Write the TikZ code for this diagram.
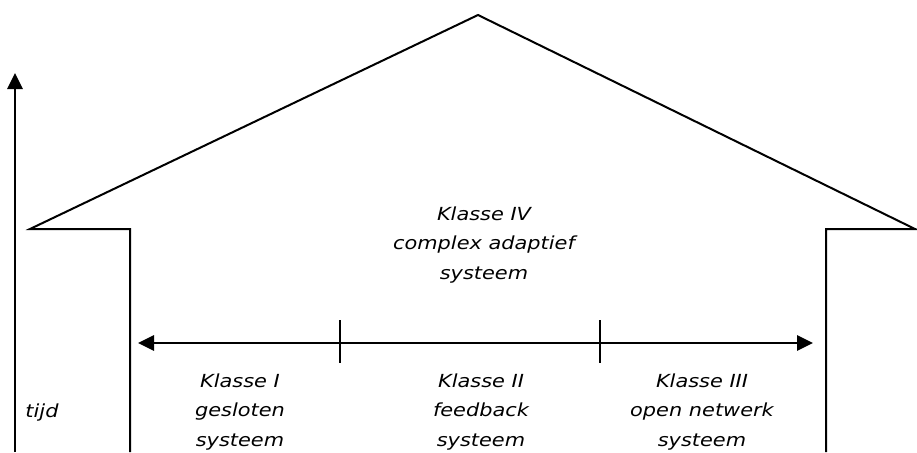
\documentclass[tikz,border=0pt]{standalone}
\usepackage{fontspec}
\setmainfont{DejaVu Sans}
\newfontfamily\lblfont[FakeStretch=1.16]{DejaVu Sans Oblique}
\usetikzlibrary{arrows.meta}
\tikzset{
  lbl/.style={font=\lblfont\fontsize{18}{29.5}\selectfont, align=center, anchor=base, inner sep=0pt},
  wall/.style={line width=2pt, line join=miter},
  axis/.style={line width=2.8pt, -{Triangle[length=16pt,width=15pt]}},
  biaxis/.style={line width=2.8pt, {Triangle[length=16pt,width=15pt]}-{Triangle[length=16pt,width=15pt]}},
  tick/.style={line width=2pt}
}
\begin{document}
\begin{tikzpicture}[x=1pt,y=-1pt]
\useasboundingbox (0,0) rectangle (917,452);
% house outline
\coordinate (lw) at (130,452);
\coordinate (lc) at (130,229);
\coordinate (le) at (30,229);
\coordinate (pk) at (478,15);
\coordinate (re) at (915,229);
\coordinate (rc) at (826,229);
\coordinate (rw) at (826,452);
\draw[wall] (lw) -- (lc) -- (le) -- (pk) -- (re) -- (rc) -- (rw);
% time axis
\coordinate (tb) at (15,452);
\coordinate (tt) at (15,73);
\draw[axis] (tb) -- (tt);
% horizontal axis
\coordinate (hl) at (138,343);
\coordinate (hr) at (813,343);
\draw[biaxis] (hl) -- (hr);
\coordinate (t1a) at (340,320);
\coordinate (t1b) at (340,363);
\coordinate (t2a) at (600,320);
\coordinate (t2b) at (600,363);
\draw[tick] (t1a) -- (t1b);
\draw[tick] (t2a) -- (t2b);
% labels (base anchor = baseline of last line)
\node[lbl] (k4) at (484,279) {Klasse IV\\complex adaptief\\systeem};
\node[lbl] (k1) at (240,446) {Klasse I\\gesloten\\systeem};
\node[lbl] (k2) at (481,446) {Klasse II\\feedback\\systeem};
\node[lbl] (k3) at (702,446) {Klasse III\\open netwerk\\systeem};
\node[lbl] (td) at (42,417) {tijd};
\end{tikzpicture}
\end{document}
